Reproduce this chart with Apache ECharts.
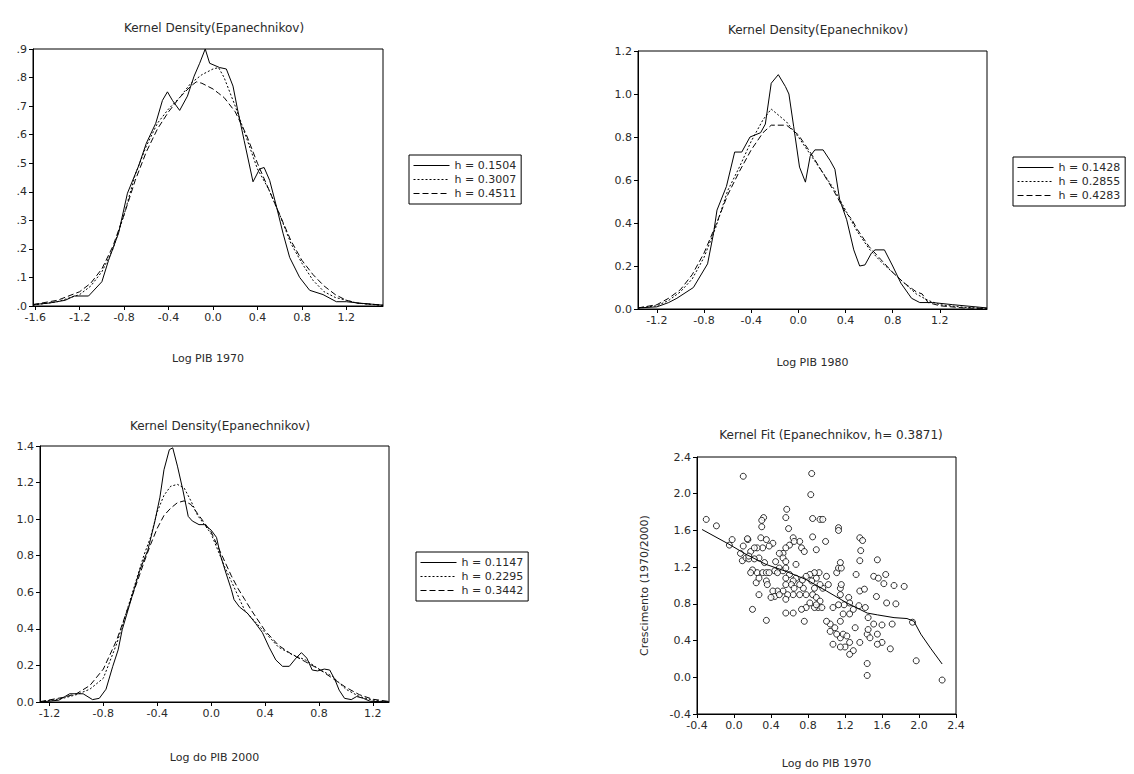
<!DOCTYPE html>
<html>
<head>
<meta charset="utf-8">
<script src="https://cdn.jsdelivr.net/npm/echarts@6/dist/echarts.min.js"></script>
<style>
html,body{margin:0;padding:0;background:#fff;}
#c{width:1134px;height:774px;}
</style>
</head>
<body>
<div id="c"></div>
<script>
// ---------- DATA ----------
// Panel 1: Log PIB 1970
const x1970a = [-1.62,-1.48,-1.33,-1.25,-1.12,-1.0,-0.94,-0.85,-0.77,-0.67,-0.6,-0.515,-0.455,-0.41,-0.365,-0.30,-0.23,-0.17,-0.12,-0.07,-0.03,0.0,0.06,0.12,0.18,0.22,0.28,0.36,0.42,0.46,0.51,0.57,0.63,0.69,0.78,0.87,0.99,1.11,1.2,1.32,1.53];
const y1970a = [0.005,0.01,0.02,0.035,0.035,0.085,0.16,0.255,0.395,0.49,0.57,0.64,0.72,0.75,0.72,0.685,0.735,0.805,0.85,0.9,0.85,0.845,0.835,0.83,0.77,0.69,0.58,0.435,0.48,0.485,0.44,0.35,0.255,0.17,0.10,0.055,0.04,0.015,0.015,0.01,0.003];
const x1970 = [-1.62,-1.4,-1.2,-1.1,-1.0,-0.9,-0.8,-0.7,-0.6,-0.5,-0.4,-0.3,-0.2,-0.15,-0.1,0.0,0.05,0.1,0.2,0.3,0.4,0.5,0.6,0.7,0.8,0.9,1.0,1.1,1.2,1.3,1.53];
const y1970b = [0.003,0.015,0.04,0.07,0.12,0.20,0.32,0.46,0.56,0.64,0.69,0.73,0.78,0.795,0.81,0.83,0.835,0.80,0.70,0.59,0.48,0.41,0.32,0.22,0.15,0.09,0.05,0.03,0.02,0.01,0.002];
const y1970c = [0.005,0.02,0.05,0.08,0.13,0.21,0.32,0.44,0.54,0.62,0.68,0.73,0.77,0.785,0.78,0.76,0.745,0.73,0.68,0.60,0.50,0.41,0.32,0.23,0.16,0.11,0.07,0.04,0.02,0.01,0.003];

// Panel 2: Log PIB 1980
const x1980a = [-1.36,-1.2,-1.1,-1.03,-0.89,-0.77,-0.72,-0.69,-0.61,-0.54,-0.48,-0.41,-0.32,-0.28,-0.23,-0.17,-0.11,-0.08,-0.04,0.01,0.06,0.10,0.14,0.21,0.27,0.31,0.35,0.41,0.47,0.52,0.565,0.62,0.65,0.73,0.80,0.87,0.96,1.03,1.14,1.31,1.60];
const y1980a = [0.005,0.01,0.03,0.05,0.10,0.21,0.35,0.46,0.57,0.73,0.73,0.80,0.82,0.86,1.05,1.09,1.035,1.0,0.85,0.66,0.59,0.71,0.74,0.74,0.69,0.65,0.51,0.415,0.275,0.20,0.205,0.26,0.275,0.275,0.20,0.12,0.05,0.03,0.03,0.02,0.005];
const x1980b = [-1.36,-1.2,-1.1,-1.0,-0.9,-0.8,-0.7,-0.6,-0.5,-0.4,-0.3,-0.23,-0.1,0.0,0.1,0.2,0.3,0.4,0.5,0.6,0.7,0.8,0.9,1.0,1.1,1.2,1.4,1.6];
const y1980b = [0.005,0.015,0.04,0.08,0.14,0.24,0.38,0.55,0.66,0.78,0.88,0.93,0.87,0.80,0.72,0.64,0.56,0.46,0.36,0.28,0.22,0.17,0.12,0.07,0.04,0.02,0.008,0.003];
const x1980c = [-1.36,-1.2,-1.1,-1.0,-0.9,-0.8,-0.7,-0.6,-0.5,-0.4,-0.3,-0.23,-0.1,0.0,0.1,0.2,0.3,0.4,0.45,0.5,0.6,0.7,0.8,0.9,1.0,1.05,1.1,1.2,1.4,1.6];
const y1980c = [0.005,0.02,0.05,0.09,0.16,0.26,0.39,0.53,0.64,0.74,0.82,0.855,0.855,0.81,0.73,0.64,0.55,0.45,0.42,0.37,0.29,0.23,0.17,0.12,0.08,0.07,0.03,0.015,0.005,0.002];

// Panel 3: Log do PIB 2000
const x2000a = [-1.27,-1.13,-1.05,-0.95,-0.88,-0.83,-0.78,-0.73,-0.69,-0.66,-0.58,-0.53,-0.47,-0.42,-0.38,-0.35,-0.31,-0.285,-0.25,-0.21,-0.17,-0.14,-0.09,-0.05,0.0,0.04,0.07,0.11,0.15,0.17,0.21,0.27,0.33,0.38,0.43,0.48,0.53,0.58,0.63,0.67,0.71,0.75,0.79,0.84,0.88,0.92,0.95,0.99,1.04,1.08,1.13,1.18,1.32];
const y2000a = [0.0,0.01,0.045,0.045,0.013,0.02,0.07,0.195,0.285,0.395,0.595,0.72,0.83,0.98,1.12,1.27,1.38,1.39,1.29,1.16,1.015,0.99,0.97,0.97,0.94,0.90,0.80,0.705,0.615,0.56,0.52,0.485,0.43,0.38,0.30,0.23,0.195,0.195,0.24,0.27,0.24,0.175,0.17,0.18,0.175,0.12,0.065,0.02,0.013,0.03,0.02,0.004,0.0];
const x2000 = [-1.27,-1.1,-1.0,-0.9,-0.8,-0.7,-0.6,-0.5,-0.45,-0.4,-0.35,-0.3,-0.25,-0.2,-0.15,-0.1,0.0,0.1,0.15,0.2,0.25,0.3,0.4,0.5,0.6,0.7,0.8,0.9,1.0,1.1,1.2,1.32];
const y2000b = [0.0,0.02,0.04,0.07,0.13,0.32,0.56,0.80,0.90,1.04,1.13,1.18,1.19,1.17,1.10,1.02,0.92,0.74,0.66,0.58,0.50,0.46,0.38,0.30,0.26,0.23,0.18,0.14,0.07,0.03,0.01,0.0];
const y2000c = [0.002,0.025,0.045,0.09,0.18,0.34,0.55,0.76,0.86,0.95,1.02,1.06,1.09,1.10,1.08,1.03,0.93,0.77,0.69,0.62,0.56,0.50,0.39,0.31,0.26,0.22,0.18,0.13,0.08,0.04,0.015,0.003];

// Panel 4: Kernel fit, Crescimento (1970/2000) vs Log do PIB 1970
const growthX = [-0.30,-0.19,0.10,0.84,0.83,0.32,0.30,0.30,0.57,0.56,0.59,0.85,0.93,0.96,1.13,1.13,0.85,1.36,1.39,1.37,1.36,1.55,1.32,1.51,1.56,1.64,1.62,1.73,1.84,1.75,1.54,1.65,1.71,1.60,1.55,1.60,1.55,1.69,1.97,2.25,1.93,1.44,1.44,1.44,1.45,1.47,1.51,1.45,1.31,1.36,1.29,1.25,1.20,1.25,1.15,1.07,1.15,1.09,1.04,1.00,1.04,1.11,1.18,1.22,1.15,1.18,1.25,1.29,1.36,1.41,1.35,1.42,1.24,1.25,1.19,1.15,1.16,1.15,1.13,1.07,1.11,1.13,1.16,1.15,0.99,1.00,1.02,0.96,0.93,0.89,0.92,0.87,0.82,0.78,0.84,0.87,0.85,0.89,0.93,0.91,0.95,0.87,0.89,0.82,0.78,0.73,0.76,0.78,0.75,0.71,0.74,0.67,0.64,0.62,0.56,0.60,0.56,0.65,0.71,0.64,0.58,0.53,0.47,0.42,0.44,0.49,0.40,0.56,0.56,0.64,0.71,0.67,0.73,0.89,0.76,0.64,0.65,0.60,0.56,0.53,0.49,0.53,0.56,0.45,0.49,0.44,0.47,0.53,0.56,0.42,0.38,0.35,0.29,0.31,0.25,0.24,0.27,0.31,0.35,0.38,0.35,0.36,0.27,0.35,0.20,0.33,0.27,0.25,0.18,0.15,0.07,0.09,0.13,0.16,0.20,0.18,-0.02,-0.05,0.10,0.145,0.22,0.16,0.22];
const growthY = [1.72,1.65,2.19,2.22,1.99,1.74,1.71,1.64,1.83,1.74,1.62,1.73,1.72,1.72,1.63,1.60,1.53,1.52,1.49,1.38,1.27,1.28,1.12,1.10,1.08,1.12,1.02,1.00,0.99,0.80,0.88,0.81,0.58,0.57,0.47,0.38,0.36,0.31,0.18,-0.03,0.60,0.15,0.02,0.47,0.52,0.43,0.58,0.65,0.54,0.38,0.29,0.38,0.33,0.25,0.33,0.36,0.43,0.54,0.58,0.61,0.50,0.47,0.47,0.45,0.61,0.69,0.69,0.74,0.94,0.96,0.78,0.76,0.87,0.81,0.79,0.97,1.01,0.90,0.79,0.76,1.14,1.19,1.19,1.25,1.48,1.10,1.01,0.97,1.01,1.08,1.14,1.14,1.12,1.10,1.05,0.97,0.90,0.87,0.83,0.76,0.76,0.76,0.79,0.81,0.76,0.74,0.61,0.90,0.97,1.01,1.06,1.08,1.05,1.01,1.01,1.12,1.08,0.97,0.90,0.90,0.90,0.94,0.94,0.94,0.88,0.90,0.87,0.85,0.70,0.70,1.48,1.23,1.41,1.39,1.37,1.52,1.48,1.44,1.41,1.35,1.35,1.30,1.26,1.26,1.19,1.16,1.14,1.16,1.19,1.46,1.43,1.50,1.52,1.41,1.14,1.03,1.08,1.14,1.14,1.14,1.05,1.01,0.90,0.62,0.74,1.25,1.30,1.41,1.37,1.50,1.35,1.27,1.30,1.29,1.17,1.14,1.50,1.44,1.43,1.51,1.41,1.32,1.29];
const fitX = [-0.345,-0.055,0.13,0.345,0.56,0.78,1.0,1.22,1.44,1.55,1.73,1.87,1.945,2.02,2.13,2.25];
const fitY = [1.61,1.45,1.34,1.23,1.155,1.065,0.94,0.81,0.70,0.68,0.65,0.64,0.61,0.47,0.31,0.145];

// tick labels
const ticks1970 = [-1.6,-1.2,-0.8,-0.4,0.0,0.4,0.8,1.2];
const ticks1980 = [-1.2,-0.8,-0.4,0.0,0.4,0.8,1.2];
const ticks2000 = [-1.2,-0.8,-0.4,0.0,0.4,0.8,1.2];

const titleKD = 'Kernel Density(Epanechnikov)';
const titleKF = 'Kernel Fit (Epanechnikov, h= 0.3871)';
const names1970 = ['h = 0.1504','h = 0.3007','h = 0.4511'];
const names1980 = ['h = 0.1428','h = 0.2855','h = 0.4283'];
const names2000 = ['h = 0.1147','h = 0.2295','h = 0.3442'];

// ---------- CHART ----------
const FONT = '"DejaVu Sans", "Liberation Sans", Arial, sans-serif';
const TXT = '#2a2a2a';
const zip = (xs, ys) => xs.map((x, i) => [x, ys[i]]);

const grids = [
  {left: 33, top: 49, width: 350, height: 257},
  {left: 638, top: 51, width: 349, height: 258},
  {left: 40, top: 446, width: 349, height: 256},
  {left: 697, top: 457, width: 259, height: 257}
].map(g => Object.assign({show: true, borderColor: '#000', borderWidth: 1, backgroundColor: '#fff', containLabel: false}, g));

function xAx(idx, min, max, name, gap, custom) {
  const a = {
    type: 'value', gridIndex: idx, min: min, max: max,
    name: name, nameLocation: 'middle', nameGap: gap,
    nameTextStyle: {fontFamily: FONT, fontSize: 11, color: TXT},
    axisLine: {onZero: false, lineStyle: {color: '#000', width: 1}},
    axisTick: {show: true, inside: false, length: 4, lineStyle: {color: '#000'}},
    axisLabel: {fontFamily: FONT, fontSize: 11, color: TXT, margin: 6, formatter: v => Number(v).toFixed(1)},
    splitLine: {show: false}
  };
  if (custom) {
    a.axisTick.customValues = custom;
    a.axisLabel.customValues = custom;
  } else {
    a.interval = 0.4;
  }
  return a;
}
function yAx(idx, min, max, interval, fmt, extra) {
  return Object.assign({
    type: 'value', gridIndex: idx, min: min, max: max, interval: interval,
    axisLine: {show: true, onZero: false, lineStyle: {color: '#000', width: 1}},
    axisTick: {show: true, inside: false, length: 4, lineStyle: {color: '#000'}},
    axisLabel: {fontFamily: FONT, fontSize: 11, color: TXT, margin: 6, formatter: fmt},
    splitLine: {show: false}
  }, extra || {});
}
const f1 = v => Number(v).toFixed(1);
const fDot = v => Number(v).toFixed(1).replace(/^0\./, '.');

function lineSeries(name, idx, data, type) {
  return {
    name: name, type: 'line', xAxisIndex: idx, yAxisIndex: idx,
    data: data, symbol: 'none', smooth: false, silent: true, animation: false,
    lineStyle: {color: '#000', width: 1, type: type},
    itemStyle: {color: '#000'}
  };
}
function legendAt(left, top, names) {
  return {
    orient: 'vertical', left: left, top: top, data: names,
    itemWidth: 36, itemHeight: 12, itemGap: 3,
    padding: [5, 5, 5, 4], borderColor: '#000', borderWidth: 1,
    backgroundColor: '#fff', selectedMode: false,
    itemStyle: {opacity: 0, borderWidth: 0},
    lineStyle: {width: 1},
    textStyle: {fontFamily: FONT, fontSize: 11, color: TXT, width: 74}
  };
}
const DOT = [2, 2];
const DASH = [6, 3];

const option = {
  animation: false,
  backgroundColor: '#fff',
  title: [
    {text: titleKD, left: 209, top: 17, textAlign: 'center'},
    {text: titleKD, left: 813, top: 19, textAlign: 'center'},
    {text: titleKD, left: 215, top: 415, textAlign: 'center'},
    {text: titleKF, left: 826, top: 424, textAlign: 'center'}
  ].map(t => Object.assign(t, {textStyle: {fontFamily: FONT, fontSize: 12, fontWeight: 'normal', color: TXT}})),
  grid: grids,
  xAxis: [
    xAx(0, -1.62, 1.53, 'Log PIB 1970', 47, ticks1970),
    xAx(1, -1.36, 1.6, 'Log PIB 1980', 48, ticks1980),
    xAx(2, -1.27, 1.32, 'Log do PIB 2000', 50, ticks2000),
    xAx(3, -0.4, 2.4, 'Log do PIB 1970', 44, null)
  ],
  yAxis: [
    yAx(0, 0, 0.9, 0.1, fDot),
    yAx(1, 0, 1.2, 0.2, f1),
    yAx(2, 0, 1.4, 0.2, f1),
    yAx(3, -0.4, 2.4, 0.4, f1, {
      name: 'Crescimento (1970/2000)', nameLocation: 'middle', nameGap: 47, nameRotate: 90,
      nameTextStyle: {fontFamily: FONT, fontSize: 11, color: TXT}
    })
  ],
  legend: [
    legendAt(409, 155, names1970),
    legendAt(1013, 157, names1980),
    legendAt(416, 552, names2000)
  ],
  series: [
    lineSeries(names1970[0], 0, zip(x1970a, y1970a), 'solid'),
    lineSeries(names1970[1], 0, zip(x1970, y1970b), DOT),
    lineSeries(names1970[2], 0, zip(x1970, y1970c), DASH),
    lineSeries(names1980[0], 1, zip(x1980a, y1980a), 'solid'),
    lineSeries(names1980[1], 1, zip(x1980b, y1980b), DOT),
    lineSeries(names1980[2], 1, zip(x1980c, y1980c), DASH),
    lineSeries(names2000[0], 2, zip(x2000a, y2000a), 'solid'),
    lineSeries(names2000[1], 2, zip(x2000, y2000b), DOT),
    lineSeries(names2000[2], 2, zip(x2000, y2000c), DASH),
    {
      name: 'Crescimento', type: 'scatter', xAxisIndex: 3, yAxisIndex: 3,
      data: zip(growthX, growthY), symbol: 'circle', symbolSize: 6, silent: true,
      itemStyle: {color: '#fff', borderColor: '#000', borderWidth: 1}
    },
    lineSeries('Kernel fit', 3, zip(fitX, fitY), 'solid')
  ]
};
const chart = echarts.init(document.getElementById('c'), null, {renderer: 'svg'});
chart.setOption(option);
</script>
</body>
</html>
